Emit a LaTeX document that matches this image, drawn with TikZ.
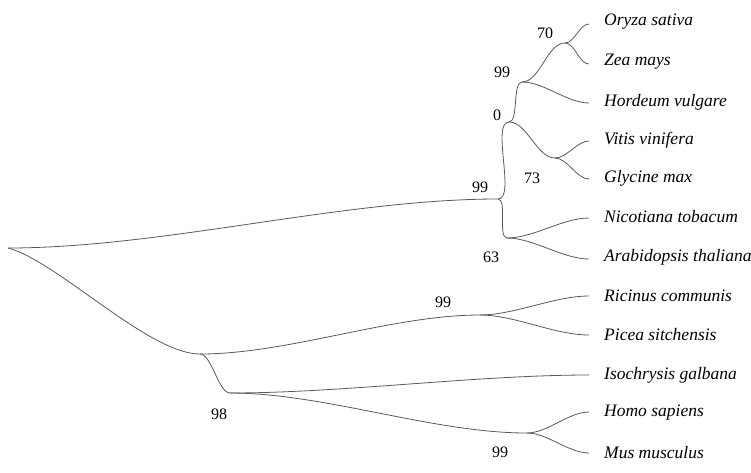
\documentclass[tikz,border=0pt]{standalone}
\usepackage{fontspec}
\setmainfont{Liberation Serif}
\begin{document}
\begin{tikzpicture}[x=1pt,y=-1pt,
           branch_style/.style={draw=black!65,line width=0.8pt,out=0,in=180,looseness=0.8},
           taxon_style/.style={anchor=west,font=\fontsize{17.5}{19}\selectfont\itshape,inner sep=0pt},
           boot_style/.style={font=\fontsize{16}{18}\selectfont,inner sep=0pt}]
            \useasboundingbox (0,0) rectangle (751,472);
            % internal nodes
            \coordinate (root) at (8,248);
            \coordinate (n1) at (498,199);
            \coordinate (n2) at (509,122);
            \coordinate (n3) at (522,82);
            \coordinate (n4) at (565,43);
            \coordinate (n5) at (555,158);
            \coordinate (n6) at (507,238);
            \coordinate (n7) at (200,354);
            \coordinate (n8) at (480,315);
            \coordinate (n9) at (230,393);
            \coordinate (n10) at (527,433);
            % leaves
            \coordinate (l1) at (589,24);
            \coordinate (l2) at (589,64);
            \coordinate (l3) at (589,103);
            \coordinate (l4) at (589,141);
            \coordinate (l5) at (589,179);
            \coordinate (l6) at (589,218);
            \coordinate (l7) at (589,259);
            \coordinate (l8) at (589,296);
            \coordinate (l9) at (589,335);
            \coordinate (l10) at (589,375);
            \coordinate (l11) at (589,412);
            \coordinate (l12) at (589,453);
            % branches
            \draw[branch_style] (root) to (n1);
            \draw[branch_style,out=-15,looseness=0.6] (root) to (n7);
            \draw[branch_style,looseness=0.6] (n1) to (n2);
            \draw[branch_style,looseness=0.6] (n1) to (n6);
            \draw[branch_style,looseness=0.6] (n2) to (n3);
            \draw[branch_style] (n2) to (n5);
            \draw[branch_style] (n3) to (n4);
            \draw[branch_style] (n3) to (l3);
            \draw[branch_style] (n4) to (l1);
            \draw[branch_style] (n4) to (l2);
            \draw[branch_style] (n5) to (l4);
            \draw[branch_style] (n5) to (l5);
            \draw[branch_style] (n6) to (l6);
            \draw[branch_style] (n6) to (l7);
            \draw[branch_style] (n7) to (n8);
            \draw[branch_style,looseness=0.6] (n7) to (n9);
            \draw[branch_style] (n8) to (l8);
            \draw[branch_style] (n8) to (l9);
            \draw[branch_style] (n9) to (l10);
            \draw[branch_style] (n9) to (n10);
            \draw[branch_style] (n10) to (l11);
            \draw[branch_style] (n10) to (l12);
            % taxa
            \node[taxon_style] (t1) at (604,22) {Oryza sativa};
            \node[taxon_style] (t2) at (604,62) {Zea mays};
            \node[taxon_style] (t3) at (604,102) {Hordeum vulgare};
            \node[taxon_style] (t4) at (604,140) {Vitis vinifera};
            \node[taxon_style] (t5) at (604,178) {Glycine max};
            \node[taxon_style] (t6) at (604,217) {Nicotiana tobacum};
            \node[taxon_style] (t7) at (604,257) {Arabidopsis thaliana};
            \node[taxon_style] (t8) at (604,296) {Ricinus communis};
            \node[taxon_style] (t9) at (604,335) {Picea sitchensis};
            \node[taxon_style] (t10) at (604,375) {Isochrysis galbana};
            \node[taxon_style] (t11) at (604,413) {Homo sapiens};
            \node[taxon_style] (t12) at (604,453) {Mus musculus};
            % bootstrap values
            \node[boot_style] (b1) at (480,187) {99};
            \node[boot_style] (b2) at (497,115) {0};
            \node[boot_style] (b3) at (502,72) {99};
            \node[boot_style] (b4) at (545,33) {70};
            \node[boot_style] (b5) at (532,178) {73};
            \node[boot_style] (b6) at (491,257) {63};
            \node[boot_style] (b7) at (443,302) {99};
            \node[boot_style] (b8) at (219,414) {98};
            \node[boot_style] (b9) at (500,452) {99};
        \end{tikzpicture}
\end{document}
